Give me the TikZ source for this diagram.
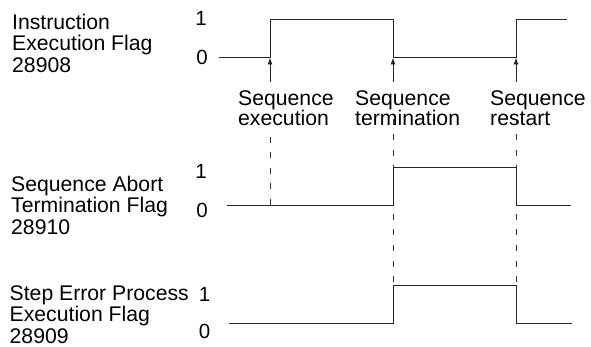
\documentclass[tikz,border=0pt]{standalone}
\usepackage{fontspec}
\setmainfont{Liberation Sans}
\usetikzlibrary{calc}
\usetikzlibrary{arrows.meta}

\begin{document}
\begin{tikzpicture}[x=1pt, y=-1pt,
    wave/.style={black!85, line width=0.9pt},
    guide/.style={black!80, line width=0.9pt, dash pattern=on 6pt off 9.5pt},
    marker/.style={black!85, line width=0.9pt, -{Latex[length=7pt, width=5pt]}},
    flaglbl/.style={anchor=base west, inner sep=0pt, align=left,
      font=\fontsize{21.2}{21.5}\selectfont},
    eventlbl/.style={anchor=base west, inner sep=0pt, align=left,
      font=\fontsize{21.2}{20}\selectfont},
    lvl/.style={inner sep=0pt, font=\fontsize{20.5}{21}\selectfont}]
    \useasboundingbox (0,0) rectangle (591,347);

    % flag names (base = last line)
    \node[flaglbl] (flagA) at (12, 72.5) {Instruction\\Execution Flag\\28908};
    \node[flaglbl] (flagB) at (11, 234) {Sequence Abort\\Termination Flag\\28910};
    \node[flaglbl] (flagC) at (9.5, 343) {Step Error Process\\Execution Flag\\28909};

    % levels
    \node[lvl] (oneA) at (201, 18) {1};
    \node[lvl] (zeroA) at (202, 57) {0};
    \node[lvl] (oneB) at (201, 171) {1};
    \node[lvl] (zeroB) at (202, 210) {0};
    \node[lvl] (oneC) at (204.5, 294) {1};
    \node[lvl] (zeroC) at (204.5, 331.5) {0};

    % waveforms
    \draw[wave] (219, 57) -- (270, 57) -- (270, 19) -- (393, 19)
      -- (393, 57) -- (516, 57) -- (516, 19) -- (567, 19);
    \draw[wave] (227, 205) -- (393, 205) -- (393, 167) -- (516, 167)
      -- (516, 205) -- (571, 205);
    \draw[wave] (229, 323) -- (393, 323) -- (393, 285) -- (516, 285)
      -- (516, 323) -- (572, 323);

    % events
    \coordinate (execFoot) at (270, 82);
    \coordinate (execTip) at (270, 57.5);
    \coordinate (termFoot) at (393, 82);
    \coordinate (termTip) at (393, 57.5);
    \coordinate (restFoot) at (516, 82);
    \coordinate (restTip) at (516, 57.5);
    \draw[marker] (execFoot) -- (execTip);
    \draw[marker] (termFoot) -- (termTip);
    \draw[marker] (restFoot) -- (restTip);

    \node[eventlbl] (execLbl) at (238, 126) {Sequence\\execution};
    \node[eventlbl] (termLbl) at (355, 126) {Sequence\\termination};
    \node[eventlbl] (restLbl) at (490, 126) {Sequence\\restart};

    % guides
    \draw[guide] (270, 137) -- (270, 205);
    \draw[guide] (393, 119) -- (393, 167);
    \draw[guide] (516, 119) -- (516, 167);
    \draw[guide] (393, 214) -- (393, 285);
    \draw[guide] (516, 214) -- (516, 285);
\end{tikzpicture}
\end{document}
